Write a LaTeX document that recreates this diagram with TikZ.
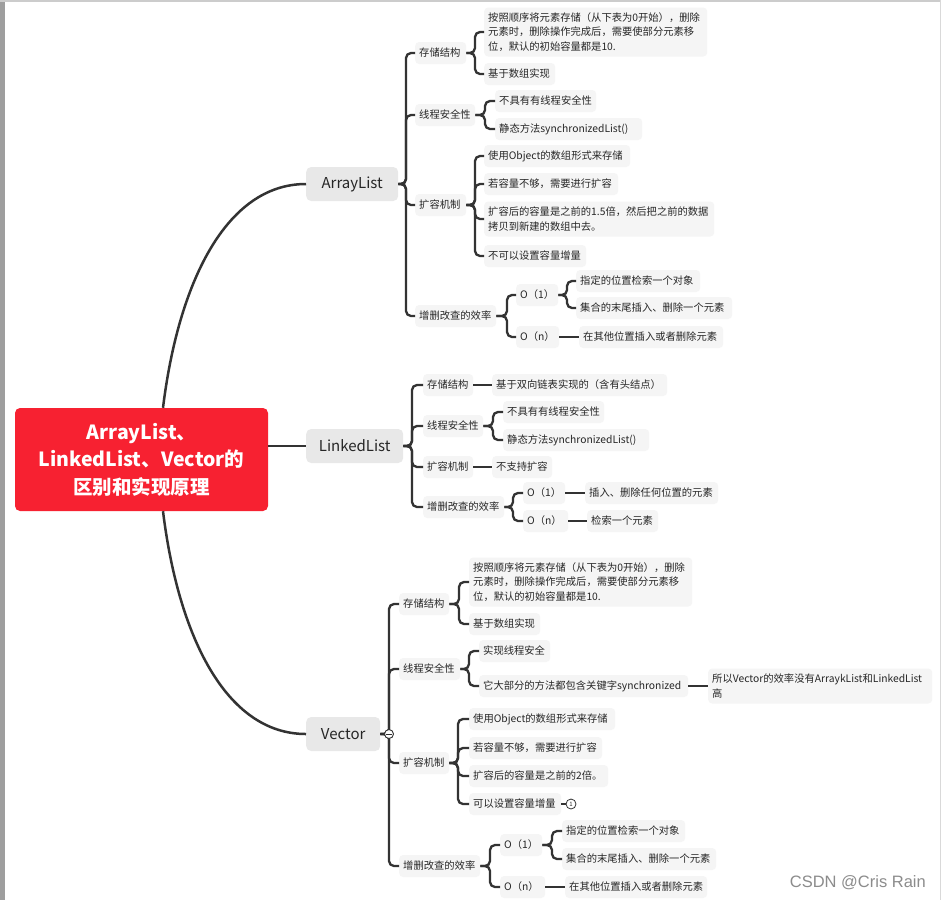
\documentclass[tikz,border=0pt]{standalone}
\usepackage{fontspec}
\setmainfont{Noto Sans CJK SC}
\newfontfamily\wmfont{Liberation Sans}
\definecolor{lc}{HTML}{333333}
\definecolor{tc}{HTML}{262626}
\definecolor{bgA}{HTML}{E8E8E8}
\definecolor{bgB}{HTML}{F5F5F5}
\definecolor{rootred}{RGB}{247,33,49}
\newcommand\fsleaf{\fontsize{10.3}{14.5}\selectfont}
\newcommand\fstopic{\fontsize{15}{18}\selectfont}
\newcommand\fsroot{\fontsize{19.5}{27.5}\selectfont}
\newcommand\mmbr[3]{\draw[conn] (#1.east) -- (#1.east -| #2) |- (#3.west);}
\newcommand\mmln[2]{\draw[conn] (#1.east) -- (#2.west);}
\tikzset{
  conn/.style={draw=lc, line width=2.3pt, rounded corners=5pt},
  bigcurve/.style={draw=lc, line width=2.5pt},
  box/.style={fill=bgB, rounded corners=4pt, inner xsep=4pt, inner ysep=2pt,
    minimum height=22pt, anchor=west, text=tc, font=\fsleaf, align=left},
  bw/.style={text width=#1-8pt},
  topic/.style={fill=bgA, rounded corners=5pt, inner xsep=6pt, minimum height=34pt,
    anchor=west, text=tc, font=\fstopic},
}
\begin{document}
\begin{tikzpicture}[x=1pt,y=-1pt]
\useasboundingbox (0,0) rectangle (941,900);
% screenshot borders
\fill[white] (0,0) rectangle (941,900);
\fill[black!38] (0,0) rectangle (5,900);
\fill[black!20] (0,0) rectangle (941,1.5);
\fill[black!15] (940,0) rectangle (941,900);

% root
\node[fill=rootred, rounded corners=5pt, minimum width=253pt, minimum height=103pt,
  text=white, font=\fsroot\bfseries, align=center, inner sep=0pt] (root) at (141.5,459.5)
  {ArrayList、\\LinkedList、Vector的\\区别和实现原理};

% main topics
\node[topic, minimum width=92pt] (AL) at (306,184) {ArrayList};
\node[topic, minimum width=97pt] (LL) at (306,446) {LinkedList};
\node[topic, minimum width=74pt] (VC) at (306,734) {Vector};

% spine coordinates
\coordinate (sAL) at (406,0);
\coordinate (sA1) at (475,0);
\coordinate (sA2) at (485,0);
\coordinate (sA3) at (475,0);
\coordinate (sA4) at (507,0);
\coordinate (sA41) at (567,0);
\coordinate (sLL) at (412,0);
\coordinate (sB2) at (493,0);
\coordinate (sB4) at (513,0);
\coordinate (sVC) at (389,0);
\coordinate (sC1) at (459,0);
\coordinate (sC2) at (469,0);
\coordinate (sC3) at (458,0);
\coordinate (sC4) at (490,0);
\coordinate (sC41) at (552,0);

% ---------- ArrayList ----------
\node[box, bw=51pt] (a1) at (415,53) {存储结构};
\node[box, bw=223pt, minimum height=49pt] (a11) at (484,32)
  {按照顺序将元素存储（从下表为0开始），删除\\元素时，删除操作完成后，需要使部分元素移\\位，默认的初始容量都是10.};
\node[box, bw=71pt] (a12) at (484,74) {基于数组实现};
\node[box, bw=60pt] (a2) at (415,115) {线程安全性};
\node[box, bw=101pt] (a21) at (495,101) {不具有有线程安全性};
\node[box, bw=147pt] (a22) at (495,129) {静态方法synchronizedList()};
\node[box, bw=51pt] (a3) at (415,205) {扩容机制};
\node[box, bw=146pt] (a31) at (484,156) {使用Object的数组形式来存储};
\node[box, bw=134pt] (a32) at (484,184) {若容量不够，需要进行扩容};
\node[box, bw=230pt, minimum height=35pt] (a33) at (484,219)
  {扩容后的容量是之前的1.5倍，然后把之前的数据\\拷贝到新建的数组中去。};
\node[box, bw=102pt] (a34) at (484,256) {不可以设置容量增量};
\node[box, bw=81pt] (a4) at (415,316) {增删改查的效率};
\node[box, bw=42pt] (a41) at (516,295) {O（1）};
\node[box, bw=124pt] (a411) at (576,281) {指定的位置检索一个对象};
\node[box, bw=156pt] (a412) at (576,308) {集合的末尾插入、删除一个元素};
\node[box, bw=43pt] (a42) at (516,337) {O（n）};
\node[box, bw=144pt] (a421) at (579,337) {在其他位置插入或者删除元素};

% ---------- LinkedList ----------
\node[box, bw=50pt] (b1) at (423,385) {存储结构};
\node[box, bw=175pt] (b11) at (492,385) {基于双向链表实现的（含有头结点）};
\node[box, bw=60pt] (b2) at (423,426) {线程安全性};
\node[box, bw=101pt] (b21) at (503,412) {不具有有线程安全性};
\node[box, bw=146pt] (b22) at (503,440) {静态方法synchronizedList()};
\node[box, bw=50pt] (b3) at (423,467) {扩容机制};
\node[box, bw=60pt] (b31) at (492,467) {不支持扩容};
\node[box, bw=81pt] (b4) at (423,507) {增删改查的效率};
\node[box, bw=42pt] (b41) at (523,493) {O（1）};
\node[box, bw=133pt] (b411) at (585,493) {插入、删除任何位置的元素};
\node[box, bw=45pt] (b42) at (523,521) {O（n）};
\node[box, bw=71pt] (b421) at (587,521) {检索一个元素};

% ---------- Vector ----------
\node[box, bw=50pt] (c1) at (399,604) {存储结构};
\node[box, bw=223pt, minimum height=49pt] (c11) at (469,582)
  {按照顺序将元素存储（从下表为0开始），删除\\元素时，删除操作完成后，需要使部分元素移\\位，默认的初始容量都是10.};
\node[box, bw=71pt] (c12) at (469,624) {基于数组实现};
\node[box, bw=61pt] (c2) at (399,669) {线程安全性};
\node[box, bw=71pt] (c21) at (479,651) {实现线程安全};
\node[box, bw=209pt] (c22) at (479,686) {它大部分的方法都包含关键字synchronized};
\node[box, bw=224pt, minimum height=35pt] (c221) at (708,686)
  {所以Vector的效率没有ArraykList和LinkedList\\高};
\node[box, bw=50pt] (c3) at (399,763) {扩容机制};
\node[box, bw=146pt] (c31) at (469,719) {使用Object的数组形式来存储};
\node[box, bw=133pt] (c32) at (469,748) {若容量不够，需要进行扩容};
\node[box, bw=139pt] (c33) at (469,776) {扩容后的容量是之前的2倍。};
\node[box, bw=92pt] (c34) at (469,804) {可以设置容量增量};
\node[box, bw=81pt] (c4) at (399,866) {增删改查的效率};
\node[box, bw=42pt] (c41) at (500,845) {O（1）};
\node[box, bw=123pt] (c411) at (562,831) {指定的位置检索一个对象};
\node[box, bw=154pt] (c412) at (562,859) {集合的末尾插入、删除一个元素};
\node[box, bw=45pt] (c42) at (500,887) {O（n）};
\node[box, bw=142pt] (c421) at (565,887) {在其他位置插入或者删除元素};

% ---------- root curves ----------
\draw[bigcurve] ([xshift=21.5pt]root.north) .. controls (178,285) and (225,184) .. (AL.west);
\draw[bigcurve] ([xshift=21.5pt]root.south) .. controls (178,634) and (225,734) .. (VC.west);
\draw[bigcurve] (LL.west -| root.east) -- (LL.west);

% ---------- ArrayList connectors ----------
\mmbr{AL}{sAL}{a1}
\mmbr{AL}{sAL}{a2}
\mmbr{AL}{sAL}{a3}
\mmbr{AL}{sAL}{a4}
\mmbr{a1}{sA1}{a11}
\mmbr{a1}{sA1}{a12}
\mmbr{a2}{sA2}{a21}
\mmbr{a2}{sA2}{a22}
\mmbr{a3}{sA3}{a31}
\mmbr{a3}{sA3}{a32}
\mmbr{a3}{sA3}{a33}
\mmbr{a3}{sA3}{a34}
\mmbr{a4}{sA4}{a41}
\mmbr{a4}{sA4}{a42}
\mmbr{a41}{sA41}{a411}
\mmbr{a41}{sA41}{a412}
\mmln{a42}{a421}

% ---------- LinkedList connectors ----------
\mmbr{LL}{sLL}{b1}
\mmbr{LL}{sLL}{b2}
\mmbr{LL}{sLL}{b3}
\mmbr{LL}{sLL}{b4}
\mmln{b1}{b11}
\mmbr{b2}{sB2}{b21}
\mmbr{b2}{sB2}{b22}
\mmln{b3}{b31}
\mmbr{b4}{sB4}{b41}
\mmbr{b4}{sB4}{b42}
\mmln{b41}{b411}
\mmln{b42}{b421}

% ---------- Vector connectors ----------
\mmbr{VC}{sVC}{c1}
\mmbr{VC}{sVC}{c2}
\mmbr{VC}{sVC}{c3}
\mmbr{VC}{sVC}{c4}
\mmbr{c1}{sC1}{c11}
\mmbr{c1}{sC1}{c12}
\mmbr{c2}{sC2}{c21}
\mmbr{c2}{sC2}{c22}
\mmln{c22}{c221}
\mmbr{c3}{sC3}{c31}
\mmbr{c3}{sC3}{c32}
\mmbr{c3}{sC3}{c33}
\mmbr{c3}{sC3}{c34}
\mmbr{c4}{sC4}{c41}
\mmbr{c4}{sC4}{c42}
\mmbr{c41}{sC41}{c411}
\mmbr{c41}{sC41}{c412}
\mmln{c42}{c421}

% collapse marker on Vector
\node[circle, draw=lc, fill=white, line width=0.9pt, inner sep=0pt, minimum size=9pt] (vcol) at (389,734) {};
\draw[lc, line width=0.8pt] ([xshift=-3pt]vcol.center) -- ([xshift=3pt]vcol.center);
% count marker
\node[circle, draw=lc, fill=white, line width=0.8pt, inner sep=0pt, minimum size=10pt,
  font=\fontsize{6}{6}\selectfont, text=tc] (c34n) at (571,804) {1};
\mmln{c34}{c34n}

% watermark
\node[anchor=east, text=black!45, font=\wmfont\fontsize{16.5}{18}\selectfont, inner sep=0pt] (wm) at (926,883) {CSDN @Cris Rain};
\end{tikzpicture}
\end{document}
